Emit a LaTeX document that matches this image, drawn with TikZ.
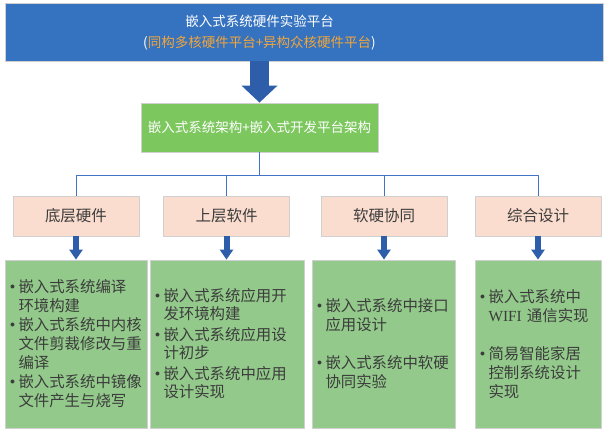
\documentclass[tikz,border=0pt]{standalone}
\usepackage{fontspec}
\setmainfont{Noto Sans CJK SC}
\newfontfamily\wifiserif{Liberation Serif}
\usetikzlibrary{arrows.meta}
\definecolor{topblue}{RGB}{53,114,192}
\definecolor{archgreen}{RGB}{124,199,94}
\definecolor{catpink}{RGB}{250,221,206}
\definecolor{listgreen}{RGB}{147,202,139}
\definecolor{boxline}{RGB}{208,208,208}
\definecolor{lineblue}{RGB}{68,114,196}
\definecolor{arrowblue}{RGB}{46,94,170}
\definecolor{titleorange}{RGB}{242,166,58}
\definecolor{textgray}{RGB}{60,60,60}
\newcommand{\itm}{\makebox[8.5pt][l]{\fontsize{10}{10}\selectfont\raisebox{3pt}{$\bullet$}}}
\newcommand{\cnt}{\hspace*{8.5pt}}
\begin{document}
\begin{tikzpicture}[x=1pt,y=-1pt,line join=round,
  box/.style={draw=boxline,line width=0.8pt,inner sep=0pt},
  cat/.style={box,fill=catpink,minimum width=126pt,minimum height=40pt,text=textgray,font=\fontsize{15.5}{18}\selectfont},
  list/.style={box,fill=listgreen,minimum height=168pt,text=textgray,align=left,inner xsep=5pt,font=\fontsize{15.4}{19}\selectfont},
  tree/.style={draw=lineblue,line width=0.9pt},
  bigarrow/.style={draw=arrowblue,line width=19pt,-{Triangle[width=35pt,length=17pt]}},
  smallarrow/.style={draw=arrowblue,line width=6pt,-{Triangle[width=13pt,length=10pt]}}]
\useasboundingbox (0,0) rectangle (608,434);
\node[box,fill=topblue,minimum width=598pt,minimum height=58pt] (top) at (304,32) {};
\node[text=white,align=center,font=\fontsize{13.5}{21}\selectfont] (toptitle) at (259.5,32.5) {嵌入式系统硬件实验平台\\(\textcolor{titleorange}{同构多核硬件平台+异构众核硬件平台})};
\node[box,fill=archgreen,minimum width=237pt,minimum height=49pt,text=white,font=\fontsize{13.5}{16}\selectfont] (arch) at (259.5,127.5) {嵌入式系统架构+嵌入式开发平台架构};
\draw[bigarrow] (arch.north |- top.south) -- (arch.north);

\foreach \nm/\x/\txt in {hw/76/底层硬件,sw/226.5/上层软件,co/384/软硬协同,de/538/综合设计}
  \node[cat] (\nm) at (\x,216) {\txt};

\coordinate (bus) at (261,175);
\foreach \nm in {hw,sw,co,de}
  \draw[tree] (arch.south) -- (arch.south |- bus) -| (\nm.north);

\node[list,minimum width=142pt,text width=132pt] (listhw) at (76,344) {\itm 嵌入式系统编译\\\cnt 环境构建\\\itm 嵌入式系统中内核\\\cnt 文件剪裁修改与重\\\cnt 编译\\\itm 嵌入式系统中镜像\\\cnt 文件产生与烧写};
\node[list,minimum width=154pt,text width=144pt,font=\fontsize{15.4}{18}\selectfont] (listsw) at (227,344) {\itm 嵌入式系统应用开\\\cnt 发环境构建\\[3pt]\itm 嵌入式系统应用设\\\cnt 计初步\\[3pt]\itm 嵌入式系统中应用\\\cnt 设计实现};
\node[list,minimum width=143pt,text width=133pt] (listco) at (383.5,344) {\itm 嵌入式系统中接口\\\cnt 应用设计\\[19pt]\itm 嵌入式系统中软硬\\\cnt 协同实验};
\node[list,minimum width=126pt,text width=116pt] (listde) at (538,344) {\itm 嵌入式系统中\\\cnt {\wifiserif WIFI} 通信实现\\[19pt]\itm 简易智能家居\\\cnt 控制系统设计\\\cnt 实现};

\foreach \nm in {hw,sw,co,de}
  \draw[smallarrow] (\nm.south) -- (\nm.south |- list\nm.north);
\end{tikzpicture}
\end{document}
